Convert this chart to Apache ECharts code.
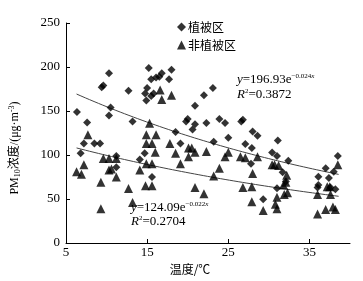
<!DOCTYPE html>
<html><head><meta charset="utf-8">
<script src="https://cdn.jsdelivr.net/npm/echarts@6/dist/echarts.min.js"></script>
<style>html,body{margin:0;padding:0;background:#fff}#c{width:363px;height:281px}</style>
</head><body><div id="c"></div>
<script>
// 植被区 (vegetated): [temperature, PM10]
const vegX = [6.35,6.8,7.2,7.6,8.5,9.2,9.4,9.6,10.3,10.3,10.5,11.2,11.2,12.7,13.2,14.1,14.7,14.9,14.75,15.0,15.2,15.5,15.5,15.8,16.1,16.5,16.8,15.6,17.7,18.0,18.5,19.1,19.8,20.0,20.6,20.9,20.9,22.0,22.3,23.1,23.2,23.9,24.6,25.0,26.6,26.8,27.1,27.9,27.8,28.0,28.6,29.3,30.4,31.0,31.0,31.1,31.7,32.1,32.4,36.1,36.1,36.0,37.0,37.4,37.6,38.0,38.2,38.5];
const vegY = [149,102,113,137,113,113,177,179,193,145,154,99,86,173,138,95,102,162,170,176,199,186,167,170,188,189,193,75,186,197,126,113,138,141,129,135,156,168,136.5,176,115,141,136.5,119.5,138,140,112.6,108,90,126.6,121.8,49.7,102.8,99,62.2,116.4,80.4,69.8,93.6,75.4,66,63,85,74,63,81,61,99];
// 非植被区 (non-vegetated)
const nonX = [6.3,6.9,7.2,7.7,9.3,9.3,9.6,10.3,10.3,10.6,11.2,11.2,12.7,13.2,14.1,14.8,14.9,14.9,14.9,15.3,15.6,15.6,15.6,16.0,16.1,16.6,16.8,17.8,18.0,18.5,19.1,20.1,20.1,20.5,20.9,20.9,22.0,22.3,23.2,23.9,24.6,25.0,26.5,26.8,27.1,27.9,28.0,27.9,28.6,29.3,30.4,30.7,30.8,31.0,31.0,31.2,31.8,31.9,32.1,32.2,32.3,36.0,36.0,37.0,37.2,37.5,37.6,37.9,38.2,38.5];
const nonY = [81,78,89,123,69,39,96,96,83,84,75,96,62,46,83,65,123,113,90,136,113,90,65,103,123,174,163,113,168,102,90,108,98,108,103,63,56,104,76,85,98,103,98,63,97,64,79,47,98,37,89,89,44,52,39,88,66,55,69,77,57,55,33,38,64,64,55,41,38,89];
// fitted curves y = a * exp(b x)
const fitVeg = [196.93, -0.024];
const fitNon = [124.09, -0.022];
const fitRange = [6.3, 38.6];
const xTicks = [5, 15, 25, 35];

const zip = (a, b) => a.map((v, i) => [v, b[i]]);
function curve(p) {
  const pts = [];
  for (let i = 0; i <= 60; i++) {
    const x = fitRange[0] + (fitRange[1] - fitRange[0]) * i / 60;
    pts.push([x, p[0] * Math.exp(p[1] * x)]);
  }
  return pts;
}
const serif = '"Liberation Serif","Noto Sans CJK SC",serif';
const chart = echarts.init(document.getElementById('c'));
chart.setOption({
  animation: false,
  textStyle: { fontFamily: serif, color: '#000' },
  grid: { left: 66, right: 13, top: 23, bottom: 38 },
  legend: {
    left: 172, top: 16, orient: 'vertical', itemGap: 6,
    itemWidth: 9, itemHeight: 9,
    textStyle: { fontFamily: '"Noto Sans CJK SC",serif', fontSize: 12, color: '#000', padding: [0,0,0,-3] },
    data: [{ name: '植被区', icon: 'diamond' }, { name: '非植被区', icon: 'triangle' }]
  },
  xAxis: {
    type: 'value', min: 5, max: 40,
    name: '温度/℃', nameLocation: 'middle', nameGap: 16,
    nameTextStyle: { fontFamily: '"Noto Sans CJK SC",serif', fontSize: 12, color: '#000', padding: [0,36,0,0] },
    axisLine: { lineStyle: { color: '#000', width: 1 } },
    axisTick: { inside: true, length: 4, customValues: xTicks, lineStyle: { color: '#000' } },
    axisLabel: { customValues: xTicks, fontSize: 13, color: '#000', fontFamily: serif, margin: 3 },
    splitLine: { show: false }
  },
  yAxis: {
    type: 'value', min: 0, max: 250, interval: 50,
    name: 'PM{sub|10}浓度/(μg·m{sup|-3})', nameLocation: 'middle', nameRotate: 90, nameGap: 44,
    nameTextStyle: { fontFamily: serif, fontSize: 12, color: '#000', padding: [0,30,0,0],
      rich: { sub: { fontSize: 8, verticalAlign: 'bottom', fontFamily: serif, padding: [6,0,0,0] },
              sup: { fontSize: 8, verticalAlign: 'top', fontFamily: serif, padding: [0,0,6,0] } } },
    axisLine: { show: true, lineStyle: { color: '#000', width: 1 } },
    axisTick: { show: true, inside: true, length: 4, lineStyle: { color: '#000' } },
    axisLabel: { fontSize: 13, color: '#000', fontFamily: serif, margin: 6 },
    splitLine: { show: false }
  },
  series: [
    { name: '植被区', type: 'scatter', symbol: 'diamond', symbolSize: 8, itemStyle: { color: '#000' }, data: zip(vegX, vegY), z: 3 },
    { name: '非植被区', type: 'scatter', symbol: 'triangle', symbolSize: 9, itemStyle: { color: '#000' }, data: zip(nonX, nonY), z: 3 },
    { name: 'fitVeg', type: 'line', data: curve(fitVeg), showSymbol: false, symbol: 'none', lineStyle: { color: '#444', width: 1 }, z: 2, silent: true },
    { name: 'fitNon', type: 'line', data: curve(fitNon), showSymbol: false, symbol: 'none', lineStyle: { color: '#444', width: 1 }, z: 2, silent: true }
  ],
  graphic: [
    { type: 'text', left: 237, top: 73, style: { text: '{i|y}=196.93e{s|−0.024}{si|x}', fontFamily: serif, fontSize: 13, fill: '#000',
      rich: { i: { fontStyle: 'italic', fontSize: 13, fontFamily: serif }, s: { fontSize: 7, verticalAlign: 'top', fontFamily: serif, padding:[0,0,6,0] }, si: { fontSize: 7, fontStyle: 'italic', verticalAlign: 'top', fontFamily: serif, padding:[0,0,6,0] } } } },
    { type: 'text', left: 237, top: 88, style: { text: '{i|R}{s|2}=0.3872', fontFamily: serif, fontSize: 13, fill: '#000',
      rich: { i: { fontStyle: 'italic', fontSize: 13, fontFamily: serif }, s: { fontSize: 7, verticalAlign: 'top', fontFamily: serif, padding:[0,0,6,0] } } } },
    { type: 'text', left: 131, top: 201, style: { text: '{i|y}=124.09e{s|−0.022}{si|x}', fontFamily: serif, fontSize: 13, fill: '#000',
      rich: { i: { fontStyle: 'italic', fontSize: 13, fontFamily: serif }, s: { fontSize: 7, verticalAlign: 'top', fontFamily: serif, padding:[0,0,6,0] }, si: { fontSize: 7, fontStyle: 'italic', verticalAlign: 'top', fontFamily: serif, padding:[0,0,6,0] } } } },
    { type: 'text', left: 131, top: 215, style: { text: '{i|R}{s|2}=0.2704', fontFamily: serif, fontSize: 13, fill: '#000',
      rich: { i: { fontStyle: 'italic', fontSize: 13, fontFamily: serif }, s: { fontSize: 7, verticalAlign: 'top', fontFamily: serif, padding:[0,0,6,0] } } } }
  ]
});
</script></body></html>
